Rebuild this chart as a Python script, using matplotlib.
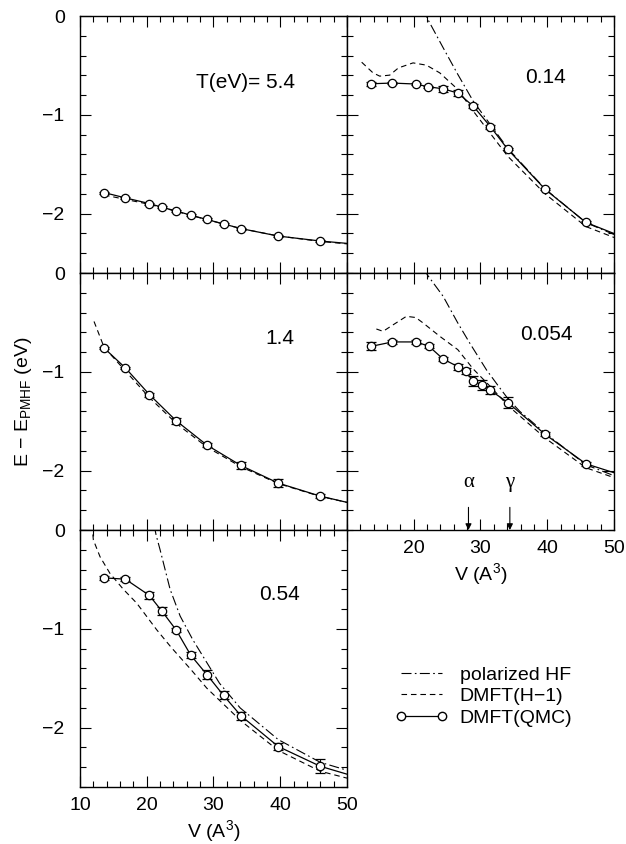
import matplotlib
matplotlib.use("Agg")
import matplotlib.pyplot as plt
from matplotlib.ticker import MultipleLocator, NullFormatter
from matplotlib.lines import Line2D

plt.rcParams['font.family'] = ['Liberation Sans', 'DejaVu Sans']
plt.rcParams['mathtext.fontset'] = 'custom'
plt.rcParams['mathtext.rm'] = 'Liberation Sans'
plt.rcParams['mathtext.it'] = 'Liberation Sans:italic'
plt.rcParams['font.size'] = 14

# ---- data (V in A^3, E - E_PMHF in eV) ----
# T = 5.4 eV
v_54 = [13.6, 16.8, 20.4, 22.3, 24.4, 26.6, 29.0, 31.5, 34.1, 39.7, 46.0]
qmc_54 = [-1.786, -1.84, -1.897, -1.935, -1.972, -2.015, -2.058, -2.103, -2.15, -2.226, -2.276]
err_54 = [0.01, 0.01, 0.01, 0.01, 0.01, 0.01, 0.01, 0.01, 0.01, 0.01, 0.01]
end_54 = -2.30
h1_v_54 = [13.6, 16.8, 20.4, 24.4, 29.0, 34.1, 39.7, 46.0, 50.0]
h1_54 = [-1.81, -1.855, -1.905, -1.975, -2.06, -2.15, -2.225, -2.28, -2.305]

# T = 0.14 eV
v_014 = [13.6, 16.8, 20.3, 22.2, 24.4, 26.6, 28.9, 31.5, 34.1, 39.7, 45.8]
qmc_014 = [-0.685, -0.678, -0.688, -0.716, -0.736, -0.779, -0.91, -1.12, -1.35, -1.754, -2.088]
err_014 = [0.02, 0.01, 0.01, 0.01, 0.03, 0.03, 0.02, 0.02, 0.01, 0.01, 0.01]
end_014 = -2.20
h1_v_014 = [12.2, 13.9, 14.9, 16.4, 17.7, 19.9, 21.9, 23.9, 26.6, 28.9, 31.5, 34.1, 39.7, 45.8, 50.0]
h1_014 = [-0.467, -0.575, -0.608, -0.598, -0.525, -0.474, -0.497, -0.575, -0.742, -0.96, -1.19, -1.42, -1.80, -2.13, -2.24]
hf_v_014 = [21.5, 22.0, 24.4, 26.6, 28.9, 31.5, 34.1, 39.7, 45.8, 50.0]
hf_014 = [0.08, -0.02, -0.32, -0.59, -0.86, -1.10, -1.34, -1.75, -2.09, -2.21]

# T = 1.4 eV
v_14 = [13.6, 16.8, 20.4, 24.4, 29.0, 34.1, 39.7, 46.0]
qmc_14 = [-0.758, -0.96, -1.23, -1.494, -1.74, -1.947, -2.125, -2.257]
err_14 = [0.01, 0.01, 0.02, 0.03, 0.02, 0.04, 0.04, 0.02]
end_14 = -2.32
h1_v_14 = [12.1, 13.6, 16.8, 20.4, 24.4, 29.0, 34.1, 39.7, 46.0, 50.0]
h1_14 = [-0.49, -0.75, -0.99, -1.26, -1.52, -1.76, -1.96, -2.13, -2.26, -2.32]

# T = 0.054 eV
v_0054 = [13.6, 16.8, 20.4, 22.3, 24.4, 26.7, 27.8, 28.9, 30.3, 31.5, 34.1, 39.7, 45.8]
qmc_0054 = [-0.742, -0.697, -0.697, -0.742, -0.87, -0.95, -0.995, -1.096, -1.13, -1.187, -1.31, -1.633, -1.93]
err_0054 = [0.04, 0.02, 0.02, 0.02, 0.02, 0.03, 0.03, 0.05, 0.05, 0.04, 0.06, 0.02, 0.02]
end_0054 = -2.02
h1_v_0054 = [14.4, 15.4, 17.0, 18.9, 20.3, 21.4, 23.9, 26.6, 28.9, 31.5, 34.1, 39.7, 45.8, 50.0]
h1_0054 = [-0.566, -0.59, -0.52, -0.438, -0.45, -0.505, -0.64, -0.775, -0.97, -1.15, -1.34, -1.67, -1.97, -2.07]
hf_v_0054 = [21.7, 22.0, 24.4, 26.6, 28.4, 30.9, 32.9, 34.1, 35.9, 39.7, 45.8, 50.0]
hf_0054 = [0.05, -0.015, -0.235, -0.505, -0.71, -0.98, -1.163, -1.27, -1.40, -1.62, -1.94, -2.05]

# T = 0.54 eV
v_054 = [13.6, 16.8, 20.4, 22.3, 24.4, 26.6, 29.0, 31.5, 34.1, 39.7, 46.0]
qmc_054 = [-0.484, -0.497, -0.662, -0.823, -1.011, -1.267, -1.462, -1.673, -1.878, -2.19, -2.39]
err_054 = [0.02, 0.02, 0.04, 0.04, 0.02, 0.03, 0.05, 0.04, 0.04, 0.04, 0.07]
end_054 = -2.47
h1_v_054 = [11.8, 12.0, 13.0, 14.5, 16.5, 18.5, 21.5, 23.7, 26.6, 29.0, 34.1, 39.7, 46.0, 50.0]
h1_054 = [0.05, -0.10, -0.27, -0.44, -0.60, -0.74, -1.01, -1.19, -1.41, -1.60, -1.93, -2.23, -2.44, -2.51]
hf_v_054 = [21.1, 21.4, 22.0, 23.5, 25.0, 26.9, 30.9, 34.0, 39.7, 46.0, 50.0]
hf_054 = [0.05, -0.05, -0.2, -0.6, -0.87, -1.11, -1.55, -1.80, -2.12, -2.35, -2.43]

labels = ['T(eV)= 5.4', '0.14', '1.4', '0.054', '0.54']
phase_v = [28.2, 34.4]
phase_names = ['α', 'γ']

HF_STYLE = (0, (9, 3, 1.5, 3))
H1_STYLE = (0, (5, 3.5))

fig = plt.figure(figsize=(6.26, 8.44), dpi=100)
W, H = 0.4265, 0.3045
L1, L2 = 0.1278, 0.5543
B = [0.6765, 0.372, 0.0675]

panels = [
    (L1, B[0], v_54, qmc_54, err_54, end_54, h1_v_54, h1_54, None, None, labels[0], (0.618, 0.741)),
    (L2, B[0], v_014, qmc_014, err_014, end_014, h1_v_014, h1_014, hf_v_014, hf_014, labels[1], (0.745, 0.759)),
    (L1, B[1], v_14, qmc_14, err_14, end_14, h1_v_14, h1_14, None, None, labels[2], (0.749, 0.744)),
    (L2, B[1], v_0054, qmc_0054, err_0054, end_0054, h1_v_0054, h1_0054, hf_v_0054, hf_0054, labels[3], (0.745, 0.76)),
    (L1, B[2], v_054, qmc_054, err_054, end_054, h1_v_054, h1_054, hf_v_054, hf_054, labels[4], (0.749, 0.751)),
]

axes = []
for (lx, by, v, q, e, qend, hv, h1, fv, hf, lab, lpos) in panels:
    ax = fig.add_axes([lx, by, W, H])
    axes.append(ax)
    if fv is not None:
        ax.plot(fv, hf, color='black', lw=0.8, linestyle=HF_STYLE)
    ax.plot(hv, h1, color='black', lw=0.8, linestyle=H1_STYLE)
    ax.plot(list(v) + [50.0], list(q) + [qend], color='black', lw=0.9)
    ax.errorbar(v, q, yerr=e, fmt='o', color='black', ms=6, mfc='white',
                mec='black', mew=0.9, elinewidth=0.8, capsize=3.5, capthick=0.8, zorder=5)
    ax.text(lpos[0], lpos[1], lab, transform=ax.transAxes, ha='center', va='center', fontsize=15)
    ax.set_xlim(10, 50)
    ax.set_ylim(-2.6, 0)
    ax.xaxis.set_major_locator(MultipleLocator(10))
    ax.xaxis.set_minor_locator(MultipleLocator(2))
    ax.yaxis.set_major_locator(MultipleLocator(1))
    ax.yaxis.set_minor_locator(MultipleLocator(0.2))
    ax.tick_params(which='both', direction='in', top=True, right=True, width=0.8, labelsize=14)
    ax.tick_params(which='major', length=8)
    ax.tick_params(which='minor', length=4.5)
    ax.tick_params(axis='x', which='major', pad=7)
    ax.tick_params(axis='y', which='major', pad=11)
    for s in ax.spines.values():
        s.set_linewidth(1.0)

ax54, ax014, ax14, ax0054, ax054 = axes
for ax in [ax54, ax014, ax14]:
    ax.xaxis.set_major_formatter(NullFormatter())
for ax in [ax014, ax0054]:
    ax.yaxis.set_major_formatter(NullFormatter())
ax0054.set_xticks([20, 30, 40, 50])
ax0054.set_xticklabels(['20', '30', '40', '50'])
ax0054.set_xlabel('V (A$^3$)', fontsize=14, labelpad=3)
ax054.set_xlabel('V (A$^3$)', fontsize=14, labelpad=3)
ax14.set_ylabel('E − E$_{\\mathrm{PMHF}}$ (eV)', fontsize=14, labelpad=6)

for pv, name in zip(phase_v, phase_names):
    ax0054.annotate(name, xy=(pv, -2.6), xytext=(pv, -2.12), ha='center', va='center',
                    fontsize=15, family=['Liberation Serif', 'DejaVu Serif'],
                    arrowprops=dict(arrowstyle='-|>', color='black', lw=0.8,
                                    mutation_scale=9, shrinkA=9, shrinkB=0))

handles = [
    Line2D([], [], color='black', lw=0.8, linestyle=HF_STYLE),
    Line2D([], [], color='black', lw=0.8, linestyle=H1_STYLE),
    Line2D([], [], color='black', lw=0.9, marker='o', ms=6, mfc='white', mec='black'),
]
fig.legend(handles, ['polarized HF', 'DMFT(H−1)', 'DMFT(QMC)'], loc='upper left',
           bbox_to_anchor=(0.632, 0.211), frameon=False, fontsize=14, numpoints=2,
           handlelength=2.7, handletextpad=0.6, labelspacing=0.2, borderpad=0, borderaxespad=0)

fig.savefig('out.png', dpi=100)
